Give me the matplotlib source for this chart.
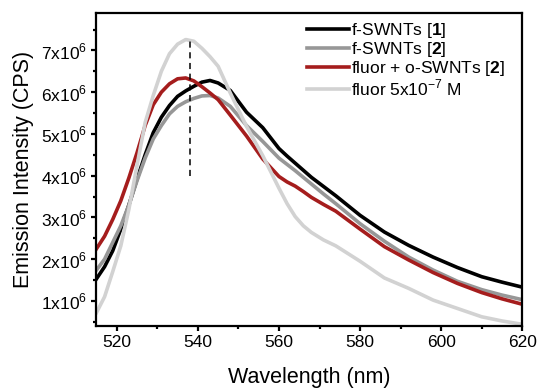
import numpy as np
import matplotlib
matplotlib.use('Agg')
import matplotlib.pyplot as plt
from matplotlib.ticker import MultipleLocator, FuncFormatter

plt.rcParams['font.family'] = ['Liberation Sans', 'DejaVu Sans']
plt.rcParams['mathtext.fontset'] = 'custom'
plt.rcParams['mathtext.rm'] = 'Liberation Sans'
plt.rcParams['mathtext.bf'] = 'Liberation Sans:bold'

# wavelength grid (nm) and intensities (x1e6 CPS)
wavelength = [515, 517, 519, 521, 523, 525, 527, 529, 531, 533, 535, 537, 539, 541,
              543, 545, 548, 552, 556, 560, 562, 564, 566, 568, 571, 574, 580, 586,
              592, 598, 604, 610, 615, 620]
f_swnt_1 = [1.53, 1.82, 2.20, 2.72, 3.30, 3.92, 4.50, 5.03, 5.40, 5.68, 5.90, 6.03,
            6.14, 6.24, 6.28, 6.22, 6.04, 5.52, 5.15, 4.65, 4.47, 4.30, 4.13, 3.96,
            3.74, 3.52, 3.05, 2.65, 2.33, 2.05, 1.80, 1.58, 1.45, 1.33]
f_swnt_2 = [1.74, 2.00, 2.40, 2.80, 3.30, 3.88, 4.42, 4.88, 5.20, 5.48, 5.66, 5.77,
            5.85, 5.91, 5.92, 5.86, 5.66, 5.20, 4.82, 4.42, 4.27, 4.12, 3.96, 3.80,
            3.56, 3.33, 2.85, 2.43, 2.05, 1.74, 1.47, 1.27, 1.14, 1.03]
fluor_oswnt = [2.25, 2.55, 2.95, 3.40, 3.95, 4.55, 5.20, 5.70, 6.00, 6.20, 6.32, 6.34,
               6.27, 6.13, 5.98, 5.82, 5.45, 4.95, 4.40, 3.98, 3.85, 3.75, 3.62, 3.48,
               3.31, 3.15, 2.72, 2.30, 1.98, 1.68, 1.42, 1.20, 1.05, 0.92]
fluor = [0.72, 1.10, 1.70, 2.32, 3.20, 4.25, 5.27, 5.92, 6.50, 6.92, 7.15, 7.26,
         7.22, 7.05, 6.85, 6.62, 5.98, 5.18, 4.48, 3.70, 3.33, 3.02, 2.80, 2.64,
         2.46, 2.32, 1.95, 1.55, 1.30, 1.02, 0.82, 0.62, 0.52, 0.44]

labels = ['f-SWNTs [$\\mathbf{1}$]', 'f-SWNTs [$\\mathbf{2}$]',
          'fluor + o-SWNTs [$\\mathbf{2}$]', 'fluor 5x10$^{-7}$ M']
colors = ['#000000', '#979797', '#a51d1d', '#d2d2d2']
series = [f_swnt_1, f_swnt_2, fluor_oswnt, fluor]

fig = plt.figure(figsize=(5.39, 3.89), dpi=100)
ax = fig.add_axes([0.179, 0.162, 0.790, 0.805])

wl = np.array(wavelength)
for s, c, lab in zip(series, colors, labels):
    ax.plot(wl, np.array(s) * 1e6, color=c, lw=2.6, label=lab,
            solid_joinstyle='round')

ax.vlines(538, 4.0e6, 7.3e6, colors='black', linestyles=(0, (4, 3)), lw=1.1)

ax.set_xlim(515, 620)
ax.set_ylim(0.4e6, 7.9e6)
ax.xaxis.set_major_locator(MultipleLocator(20))
ax.xaxis.set_minor_locator(MultipleLocator(10))
ax.yaxis.set_major_locator(MultipleLocator(1e6))
ax.yaxis.set_minor_locator(MultipleLocator(0.5e6))
ax.yaxis.set_major_formatter(FuncFormatter(lambda v, p: '%dx10$^6$' % round(v / 1e6)))

for sp in ax.spines.values():
    sp.set_linewidth(1.6)
ax.tick_params(which='major', direction='out', length=3.5, width=1.6, labelsize=12.5, pad=3)
ax.tick_params(which='minor', direction='out', length=2.5, width=1.6)

ax.set_xlabel('Wavelength (nm)', fontsize=15.5, labelpad=12)
ax.set_ylabel('Emission Intensity (CPS)', fontsize=15.5, labelpad=5)

ax.legend(loc='upper left', bbox_to_anchor=(0.495, 0.975), frameon=False, fontsize=12.5,
          handlelength=2.4, handletextpad=0.1, labelspacing=0.0, borderaxespad=0,
          borderpad=0)

fig.savefig('out.png', dpi=100)
